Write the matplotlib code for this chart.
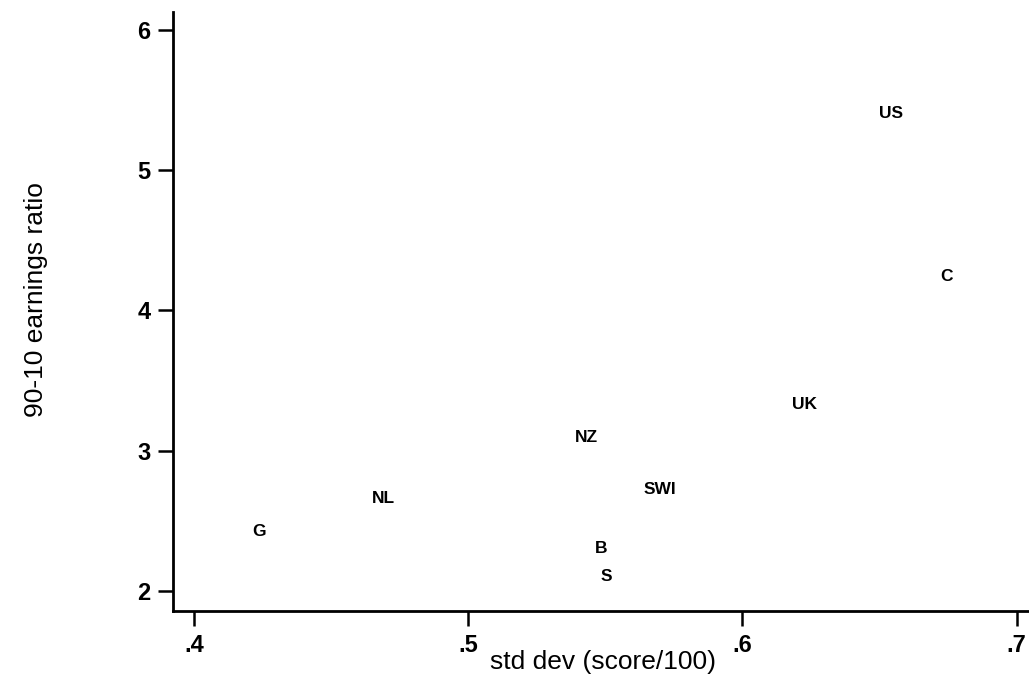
import matplotlib
matplotlib.use("Agg")
import matplotlib.pyplot as plt

countries = ["US", "C", "UK", "NZ", "SWI", "NL", "G", "B", "S"]
std_dev = [0.6542, 0.6746, 0.6228, 0.5433, 0.5700, 0.4693, 0.4237, 0.5484, 0.5503]
ratio_90_10 = [5.405, 4.24, 3.33, 3.09, 2.72, 2.66, 2.42, 2.30, 2.10]
x_ticks = [0.4, 0.5, 0.6, 0.7]
x_tick_labels = [".4", ".5", ".6", ".7"]
y_ticks = [2, 3, 4, 5, 6]

plt.rcParams['font.family'] = ['Liberation Sans', 'DejaVu Sans']

fig = plt.figure(figsize=(10.29, 6.76), dpi=100)
ax = fig.add_axes([0.1684, 0.0966, 1 - 0.1684, 0.982 - 0.0966])

for name, xv, yv in zip(countries, std_dev, ratio_90_10):
    ax.text(xv, yv, name, ha="center", va="center", fontsize=12.5,
            fontweight="bold", color="black")

ax.set_xlim(0.3925, 0.7045)
ax.set_ylim(1.857, 6.128)
ax.set_xticks(x_ticks)
ax.set_xticklabels(x_tick_labels)
ax.set_yticks(y_ticks)
ax.set_yticklabels([str(v) for v in y_ticks])
for lbl in ax.get_xticklabels() + ax.get_yticklabels():
    lbl.set_fontweight("bold")

for side in ["top", "right"]:
    ax.spines[side].set_visible(False)
for side in ["left", "bottom"]:
    ax.spines[side].set_linewidth(2)
    ax.spines[side].set_color("black")

ax.tick_params(axis="both", direction="out", length=10.5, width=1.8, pad=6,
               labelsize=17, colors="black")

ax.set_xlabel("std dev (score/100)", fontsize=19)
ax.xaxis.set_label_coords(0.5016, -0.066)
ax.set_ylabel("90-10 earnings ratio", fontsize=19)
ax.yaxis.set_label_coords(-0.146, 0.52)

fig.savefig("out.png", dpi=100, facecolor="white")
